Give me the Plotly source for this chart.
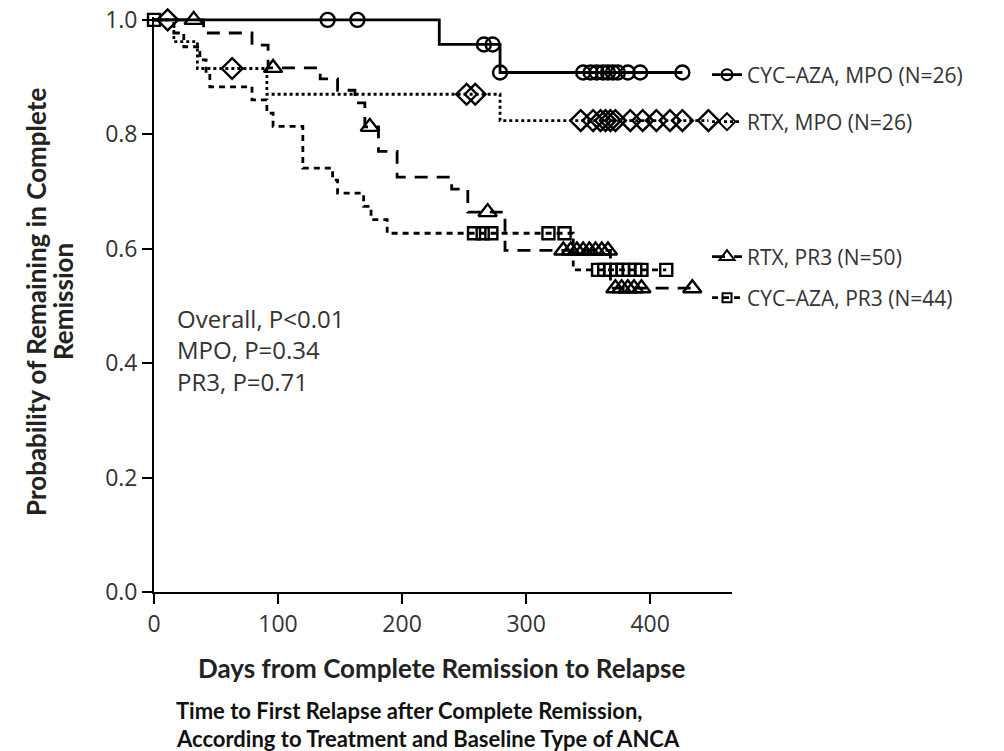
import numpy as np
import plotly.graph_objects as go

# ---------------- data ----------------
cyc_mpo_event_days = [0, 230, 279]
cyc_mpo_surv = [1.0, 0.957, 0.908]
cyc_mpo_censor_days = [140, 164, 266, 273, 279, 346, 352, 357, 362, 366, 370, 374, 382, 392, 426]

rtx_mpo_event_days = [0, 16, 35, 91, 279]
rtx_mpo_surv = [1.0, 0.962, 0.915, 0.870, 0.824]
rtx_mpo_censor_days = [11, 63, 252, 259, 344, 354, 360, 364, 368, 372, 384, 394, 405, 416, 426, 447]

rtx_pr3_event_days = [0, 40, 79, 92, 134, 148, 162, 170, 181, 196, 240, 253, 283, 368]
rtx_pr3_surv = [1.0, 0.977, 0.956, 0.916, 0.897, 0.877, 0.855, 0.813, 0.77, 0.725, 0.704, 0.664, 0.597, 0.531]
rtx_pr3_censor_days = [32, 96, 174, 269, 330, 336, 341, 346, 351, 356, 361, 366, 372, 377, 382, 387, 393, 434]

cyc_pr3_event_days = [0, 16, 24, 37, 42, 45, 79, 91, 96, 120, 144, 148, 169, 175, 188, 338]
cyc_pr3_surv = [1.0, 0.977, 0.953, 0.93, 0.907, 0.883, 0.86, 0.837, 0.814, 0.741, 0.72, 0.697, 0.674, 0.651, 0.627, 0.563]
cyc_pr3_censor_days = [0, 258, 265, 272, 318, 331, 358, 363, 368, 373, 378, 383, 388, 393, 413]

series_names = ["CYC\u2013AZA, MPO (N=26)", "RTX, MPO (N=26)", "RTX, PR3 (N=50)", "CYC\u2013AZA, PR3 (N=44)"]
x_ticks = [0, 100, 200, 300, 400]
y_ticks = [0.0, 0.2, 0.4, 0.6, 0.8, 1.0]
stats_lines = ["Overall, P<0.01", "MPO, P=0.34", "PR3, P=0.71"]
y_title_lines = ["Probability of Remaining in Complete", "Remission"]
x_title = "Days from Complete Remission to Relapse"
caption_lines = ["Time to First Relapse after Complete Remission,",
                 "According to Treatment and Baseline Type of ANCA"]

# ---------------- styles ----------------
styles = [
    dict(dash="solid", symbol="circle-open", size=14),
    dict(dash="3px,3px", symbol="diamond-open", size=16),
    dict(dash="13px,9px", symbol="triangle-up-open", size=16),
    dict(dash="6px,5px", symbol="square-open", size=12),
]
legend_pos_px = [75, 122, 257, 298]  # vertical pixel centres of the legend entries

series = [
    (cyc_mpo_event_days, cyc_mpo_surv, cyc_mpo_censor_days),
    (rtx_mpo_event_days, rtx_mpo_surv, rtx_mpo_censor_days),
    (rtx_pr3_event_days, rtx_pr3_surv, rtx_pr3_censor_days),
    (cyc_pr3_event_days, cyc_pr3_surv, cyc_pr3_censor_days),
]

# plot area in pixels
W, H = 1004, 751
L, R, T, B = 154, 272, 17, 159
PW, PH = W - L - R, H - T - B
Y_MAX = 1.005
X_MAX = 466

def px_to_paper_x(px):
    return (px - L) / PW

def px_to_paper_y(py):
    return (H - B - py) / PH

fig = go.Figure()
legend_keys = ["legend", "legend2", "legend3", "legend4"]

for i, ((ev, sv, cens), st, name) in enumerate(zip(series, styles, series_names)):
    ev = np.asarray(ev, float)
    sv = np.asarray(sv, float)
    cens = np.asarray(cens, float)
    last = max(ev.max(), cens.max())
    lx = list(ev) + [last]
    ly = list(sv) + [sv[-1]]
    fig.add_trace(go.Scatter(
        x=lx, y=ly, mode="lines", line_shape="hv",
        line=dict(color="black", width=2.8, dash=st["dash"]),
        showlegend=False, hoverinfo="skip", cliponaxis=False))
    idx = np.searchsorted(ev, cens, side="right") - 1
    fig.add_trace(go.Scatter(
        x=cens, y=sv[idx], mode="markers",
        marker=dict(symbol=st["symbol"], size=st["size"], color="black",
                    line=dict(color="black", width=2.4)),
        showlegend=False, cliponaxis=False))
    # legend-only sample
    fig.add_trace(go.Scatter(
        x=[None], y=[None], mode="lines+markers", name=name,
        line=dict(color="black", width=2.6, dash=st["dash"]),
        marker=dict(symbol=st["symbol"], size=st["size"] - 3, color="black",
                    line=dict(color="black", width=2)),
        legend=legend_keys[i], showlegend=True))

legend_common = dict(
    font=dict(family="Open Sans, sans-serif", size=21, color="#333"),
    bgcolor="rgba(0,0,0,0)", xanchor="left", yanchor="middle",
    itemwidth=30, tracegroupgap=0)
for key, py in zip(legend_keys, legend_pos_px):
    fig.update_layout(**{key: dict(x=px_to_paper_x(707), y=px_to_paper_y(py), **legend_common)})

axis_font = dict(family="Open Sans, sans-serif", size=23, color="#333")
fig.update_xaxes(
    range=[0, X_MAX], tickvals=x_ticks, ticktext=[str(v) for v in x_ticks],
    showline=True, linecolor="black", linewidth=1.8, ticks="outside", ticklen=10,
    tickwidth=1.8, tickcolor="black", showgrid=False, zeroline=False,
    tickfont=axis_font)
fig.update_yaxes(
    range=[0, Y_MAX], tickvals=y_ticks, ticktext=[f"{v:.1f}" for v in y_ticks],
    showline=True, linecolor="black", linewidth=1.8, ticks="outside", ticklen=10,
    tickwidth=1.8, tickcolor="black", showgrid=False, zeroline=False,
    tickfont=axis_font)

annotations = []
for line, py in zip(stats_lines, [318, 349, 381]):
    annotations.append(dict(
        text=line, x=px_to_paper_x(175), y=px_to_paper_y(py), xref="paper", yref="paper",
        xanchor="left", yanchor="middle", showarrow=False,
        font=dict(family="Open Sans, sans-serif", size=24, color="#333")))
for line, px in zip(y_title_lines, [36, 63]):
    annotations.append(dict(
        text=f"<b>{line}</b>", x=px_to_paper_x(px), y=px_to_paper_y(302),
        xref="paper", yref="paper", textangle=-90, showarrow=False,
        xanchor="center", yanchor="middle",
        font=dict(family="Lato, sans-serif", size=26, color="#222")))
annotations.append(dict(
    text=f"<b>{x_title}</b>", x=px_to_paper_x(441), y=px_to_paper_y(668),
    xref="paper", yref="paper", showarrow=False, xanchor="center", yanchor="middle",
    font=dict(family="Lato, sans-serif", size=26, color="#222")))
for line, py in zip(caption_lines, [710, 738]):
    annotations.append(dict(
        text=f"<b>{line}</b>", x=px_to_paper_x(174), y=px_to_paper_y(py),
        xref="paper", yref="paper", showarrow=False, xanchor="left", yanchor="middle",
        font=dict(family="Lato, sans-serif", size=22, color="#111")))

fig.update_layout(
    width=W, height=H, margin=dict(l=L, r=R, t=T, b=B, autoexpand=False),
    plot_bgcolor="white", paper_bgcolor="white", annotations=annotations,
    showlegend=True)

fig.write_html("out.html")
